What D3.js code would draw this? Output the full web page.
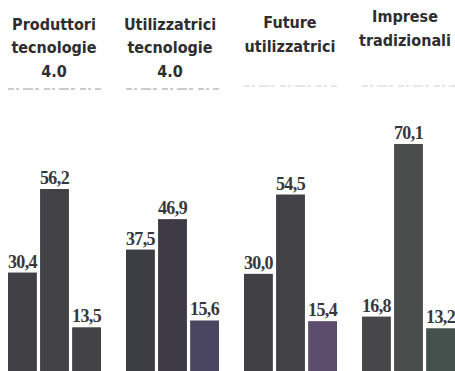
<!DOCTYPE html>
<html>
<head>
<meta charset="utf-8">
<script src="https://cdn.jsdelivr.net/npm/d3@7"></script>
<style>
  body { margin: 0; background: #fff; }
  svg { display: block; }
  .title { font-family: "DejaVu Sans Condensed", "DejaVu Sans", sans-serif; font-stretch: condensed; font-weight: bold; font-size: 16px; fill: #2e2e30; }
  .val { font-family: "Liberation Serif", "DejaVu Serif", serif; font-weight: bold; font-size: 18px; fill: #38383c; letter-spacing: -0.6px; }
</style>
</head>
<body>
<div id="chart"></div>
<script>
// groups (categories) and their headings
const groups = ['Produttori tecnologie 4.0', 'Utilizzatrici tecnologie 4.0', 'Future utilizzatrici', 'Imprese tradizionali'];
const titleLines = [
  ['Produttori', 'tecnologie', '4.0'],
  ['Utilizzatrici', 'tecnologie', '4.0'],
  ['Future', 'utilizzatrici'],
  ['Imprese', 'tradizionali']
];
// three series per group
const series = ['a', 'b', 'c'];
const values = [
  [30.4, 56.2, 13.5],
  [37.5, 46.9, 15.6],
  [30.0, 54.5, 15.4],
  [16.8, 70.1, 13.2]
];
const labels = [
  ['30,4', '56,2', '13,5'],
  ['37,5', '46,9', '15,6'],
  ['30,0', '54,5', '15,4'],
  ['16,8', '70,1', '13,2']
];
const barColors = [
  ['#414045', '#424146', '#434247'],
  ['#3d3e44', '#3f3b46', '#4a4560'],
  ['#414045', '#424146', '#5c4d6c'],
  ['#47474a', '#4b4d4c', '#44514c']
];

const width = 455, height = 371;
const baseY = 371;

const svg = d3.select('#chart').append('svg')
  .attr('width', width)
  .attr('height', height);

const x = d3.scaleBand().domain(groups).range([8, 455]).paddingInner(0.212).paddingOuter(0);
const xi = d3.scaleBand().domain(series).range([0, x.bandwidth()]).paddingInner(0.1);
const y = d3.scaleLinear().domain([0, 70.1]).range([baseY, 144]);

// headings
const titleBase = [[30, 53, 77], [30, 53, 77], [28, 52], [22, 46]];
const titleCx = [54, 170, 290, 405];
groups.forEach((gname, gi) => {
  const cx = titleCx[gi];
  svg.append('text')
    .attr('class', 'title')
    .attr('text-anchor', 'middle')
    .selectAll('tspan')
    .data(titleLines[gi])
    .enter().append('tspan')
    .attr('x', cx)
    .attr('y', (d, i) => titleBase[gi][i])
    .text(d => d);

  // faint source line under the heading
  svg.append('line')
    .attr('x1', x(gname))
    .attr('x2', x(gname) + x.bandwidth())
    .attr('y1', gi < 2 ? 89 : 86)
    .attr('y2', gi < 2 ? 89 : 86)
    .attr('stroke', gi < 2 ? '#9a9a9a' : '#cfcfcf')
    .attr('stroke-width', 1.2)
    .attr('stroke-dasharray', '6 2 3 4 10 2 4 5');
});

// bars
const g = svg.selectAll('.grp')
  .data(groups)
  .enter().append('g')
  .attr('class', 'grp')
  .attr('transform', d => 'translate(' + x(d) + ',0)');

g.selectAll('rect')
  .data((d, gi) => series.map((s, si) => ({ s, gi, si, v: values[gi][si] })))
  .enter().append('rect')
  .attr('x', d => xi(d.s))
  .attr('y', d => y(d.v))
  .attr('width', xi.bandwidth())
  .attr('height', d => y(0) - y(d.v))
  .attr('fill', d => barColors[d.gi][d.si]);

g.selectAll('text.val')
  .data((d, gi) => series.map((s, si) => ({ s, gi, si, v: values[gi][si] })))
  .enter().append('text')
  .attr('class', 'val')
  .attr('text-anchor', 'middle')
  .attr('x', d => xi(d.s) + xi.bandwidth() / 2)
  .attr('y', d => y(d.v) - 5)
  .text(d => labels[d.gi][d.si]);
</script>
</body>
</html>
